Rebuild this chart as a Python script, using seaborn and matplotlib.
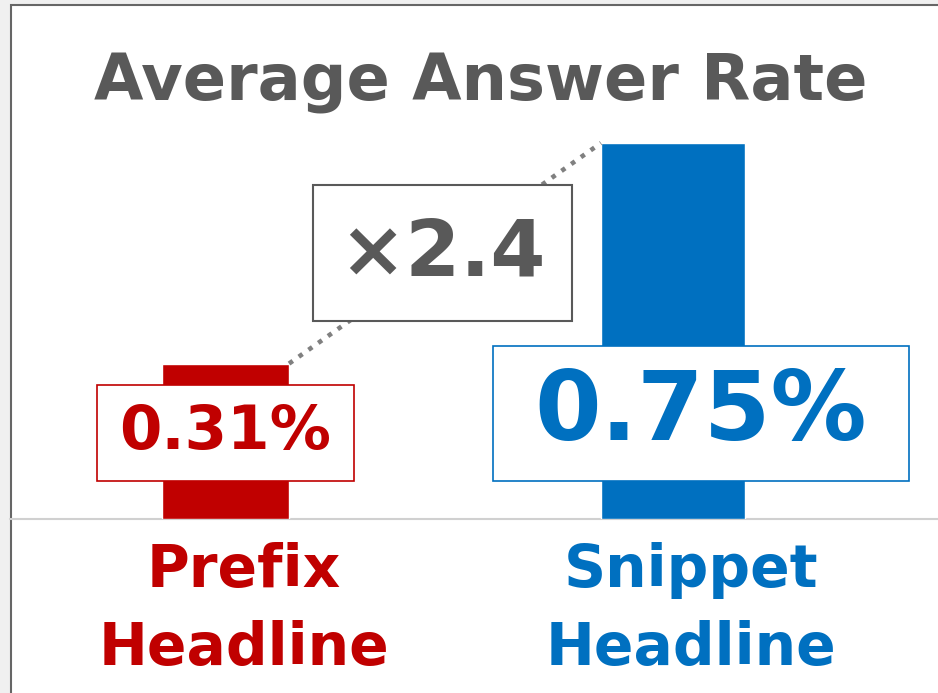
import numpy as np
import pandas as pd
import matplotlib
matplotlib.use('Agg')
import matplotlib.pyplot as plt
import seaborn as sns
from matplotlib.patches import Rectangle

# data
categories = ['Prefix\nHeadline', 'Snippet\nHeadline']
rates = [0.31, 0.75]  # average answer rate, %
value_labels = ['0.31%', '0.75%']
ratio_label = '\u00d72.4'
title = 'Average Answer Rate'

# styles
colors = ['#C00000', '#0070C0']
grey = '#595959'
bar_widths = [0.284, 0.322]

sns.set_theme(style='white')
plt.rcParams['font.family'] = ['DejaVu Sans']

W, H = 938, 693
fig = plt.figure(figsize=(W / 100, H / 100), dpi=100, facecolor='#f0f0f0')
# white panel with grey frame (cut off at right and bottom)
fig.add_artist(Rectangle((10.5 / W, -0.05), 1.0, 1.05 - 5.5 / H, transform=fig.transFigure,
                         facecolor='white', edgecolor='#666666', lw=1.5, zorder=0))

ax = fig.add_axes([1.75 / W, 174 / H, 895 / W, 376 / H])
ax.set_facecolor('none')
df = pd.DataFrame({'group': categories, 'rate': rates})
sns.barplot(data=df, x='group', y='rate', hue='group', palette=colors, legend=False,
            width=0.3, saturation=1, ax=ax, zorder=2)
for bar, w in zip(ax.patches, bar_widths):
    c = bar.get_x() + bar.get_width() / 2
    bar.set_x(c - w / 2)
    bar.set_width(w)

ax.set_xlim(-0.5, 1.5)
ax.set_ylim(0, max(rates))
ax.axis('off')

# baseline across the panel
ax.axhline(0, xmin=(10 - 1.75) / 895, xmax=1.1, color='#d0d0d0', lw=1.5, clip_on=False, zorder=1)

# dotted connector between bar tops
r, b = ax.patches[0], ax.patches[1]
ax.plot([r.get_x() + r.get_width(), b.get_x()], [r.get_height(), b.get_height()],
        ls=(0, (1, 1.6)), lw=3.3, color='#808080', clip_on=False, zorder=2.5)

# ratio box
ax.text(0.485, 0.53, ratio_label, ha='center', va='center', fontsize=57, fontweight='bold',
        color=grey, zorder=4,
        bbox=dict(boxstyle='square,pad=0.33', fc='white', ec=grey, lw=1.5, mutation_aspect=1.15))

# value boxes
ax.text(0, 0.1716, value_labels[0], ha='center', va='center', fontsize=44, fontweight='bold',
        color=colors[0], zorder=4,
        bbox=dict(boxstyle='square,pad=0.37', fc='white', ec=colors[0], lw=1.2, mutation_aspect=0.82))
ax.text(1.0626, 0.2104, value_labels[1], ha='center', va='center', fontsize=69, fontweight='bold',
        color=colors[1], zorder=4,
        bbox=dict(boxstyle='square,pad=0.433', fc='white', ec=colors[1], lw=1.2, mutation_aspect=0.5))

# category labels under the bars
for i, (cat, col) in enumerate(zip(categories, colors)):
    ax.annotate(cat, xy=(i, 0), xytext=(18, -146), textcoords='offset pixels', ha='center',
                va='baseline', fontsize=42, fontweight='bold', color=col, linespacing=1.47,
                multialignment='center', annotation_clip=False)

fig.text(481 / W, 1 - 100 / H, title, ha='center', va='baseline', fontsize=46,
         fontweight='bold', color=grey)

fig.savefig('out.png', dpi=100, facecolor=fig.get_facecolor())
